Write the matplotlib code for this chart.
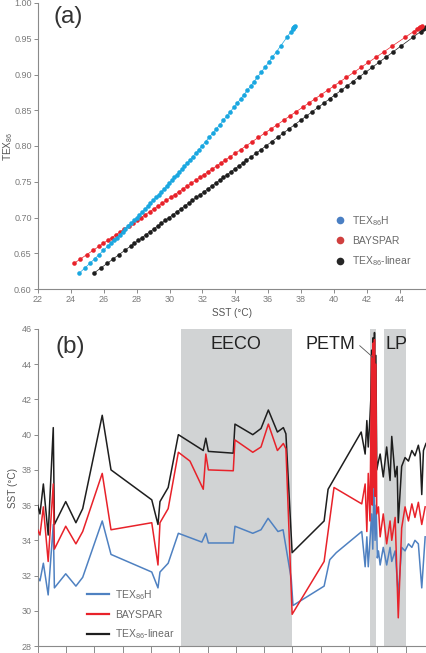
import matplotlib
matplotlib.use('Agg')
import matplotlib.pyplot as plt
from matplotlib.lines import Line2D

plt.rcParams['font.family'] = ['Liberation Sans', 'DejaVu Sans']
plt.rcParams['mathtext.fontset'] = 'custom'
plt.rcParams['mathtext.rm'] = 'Liberation Sans'
plt.rcParams['mathtext.it'] = 'Liberation Sans:italic'
plt.rcParams['mathtext.default'] = 'regular'

# ---------------- Panel (a) data: TEX86 vs SST ----------------
tex_a = [0.622, 0.630, 0.636, 0.642, 0.648, 0.654, 0.660, 0.664, 0.668, 0.672,
         0.676, 0.680, 0.684, 0.688, 0.692, 0.696, 0.700, 0.704, 0.708, 0.712,
         0.716, 0.720, 0.724, 0.728, 0.732, 0.736, 0.740, 0.744, 0.748, 0.752,
         0.756, 0.760, 0.764, 0.768, 0.772, 0.776, 0.780, 0.785, 0.790, 0.795,
         0.800, 0.806, 0.812, 0.818, 0.824, 0.830, 0.836, 0.842, 0.848, 0.854,
         0.860, 0.866, 0.872, 0.878, 0.884, 0.890, 0.896, 0.903, 0.910, 0.917,
         0.924, 0.932, 0.940, 0.952, 0.960, 0.963, 0.965, 0.966, 0.967, 0.968]

sst_texh_a = [24.50, 24.88, 25.16, 25.44, 25.71, 25.98, 26.25, 26.43, 26.61, 26.79,
              26.97, 27.15, 27.32, 27.49, 27.66, 27.83, 28.00, 28.17, 28.34, 28.51,
              28.68, 28.84, 29.00, 29.17, 29.33, 29.50, 29.66, 29.82, 29.97, 30.13,
              30.29, 30.45, 30.60, 30.76, 30.91, 31.07, 31.22, 31.41, 31.60, 31.79,
              31.97, 32.19, 32.41, 32.63, 32.85, 33.07, 33.28, 33.49, 33.70, 33.91,
              34.12, 34.33, 34.53, 34.74, 34.94, 35.14, 35.34, 35.57, 35.80, 36.03,
              36.25, 36.51, 36.76, 37.14, 37.39, 37.48, 37.54, 37.57, 37.60, 37.63]

sst_linear_a = [25.39, 25.86, 26.22, 26.57, 26.92, 27.28, 27.63, 27.86, 28.10, 28.33,
                28.57, 28.80, 29.04, 29.27, 29.51, 29.74, 29.98, 30.22, 30.45, 30.69,
                30.92, 31.16, 31.39, 31.63, 31.86, 32.10, 32.33, 32.57, 32.80, 33.04,
                33.27, 33.51, 33.74, 33.98, 34.21, 34.45, 34.68, 34.98, 35.27, 35.57,
                35.86, 36.21, 36.57, 36.92, 37.27, 37.62, 37.98, 38.33, 38.68, 39.04,
                39.39, 39.74, 40.09, 40.45, 40.80, 41.15, 41.50, 41.92, 42.33, 42.74,
                43.15, 43.62, 44.09, 44.80, 45.27, 45.44, 45.56, 45.62, 45.68, 45.74]

tex_bayspar_a = tex_a[2:]
sst_bayspar_a = [24.20, 24.58, 24.96, 25.35, 25.73, 25.98, 26.24, 26.49,
                 26.75, 27.00, 27.26, 27.51, 27.77, 28.02, 28.28, 28.53, 28.79, 29.04,
                 29.30, 29.55, 29.81, 30.06, 30.32, 30.57, 30.82, 31.08, 31.33, 31.59,
                 31.84, 32.10, 32.35, 32.61, 32.86, 33.12, 33.37, 33.69, 34.01, 34.33,
                 34.65, 35.03, 35.41, 35.79, 36.18, 36.56, 36.94, 37.32, 37.70, 38.09,
                 38.47, 38.85, 39.23, 39.62, 40.00, 40.38, 40.76, 41.21, 41.65, 42.10,
                 42.55, 43.06, 43.56, 44.33, 44.84, 45.03, 45.16, 45.22, 45.29, 45.35]

# ---------------- Panel (b) data: SST records ----------------
x_texh = [0.00, 0.08, 0.20, 0.37, 0.55, 0.59, 0.99, 1.35, 1.59, 2.28, 2.59,
          4.03, 4.25, 4.32, 4.61, 4.97, 5.80, 5.94, 6.03, 6.91, 6.97, 7.60,
          7.89, 8.14, 8.49, 8.67, 8.96, 9.02, 10.12, 10.32, 10.55, 11.45,
          11.57, 11.63, 11.68, 11.74, 11.80, 11.84, 11.88, 11.92, 11.96, 12.00,
          12.04, 12.10, 12.21, 12.33, 12.45, 12.51, 12.63, 12.74, 12.86, 12.98,
          13.10, 13.22, 13.33, 13.45, 13.57, 13.69]
sst_texh = [31.9, 31.7, 32.7, 30.9, 34.9, 31.3, 32.1, 31.4, 31.9, 35.1, 33.2,
            32.2, 31.3, 32.2, 32.7, 34.4, 33.9, 34.4, 33.85, 33.85, 34.8, 34.4,
            34.6, 35.25, 34.5, 34.6, 31.8, 30.3, 31.4, 32.9, 33.3, 34.5,
            32.5, 34.2, 32.5, 34.0, 35.5, 33.5, 37.0, 34.0, 36.0, 33.0,
            33.4, 32.6, 33.6, 32.6, 33.6, 32.8, 33.4, 30.9, 33.6, 33.4,
            33.8, 33.6, 34.0, 33.8, 31.3, 34.2]

x_bayspar = [0.00, 0.08, 0.20, 0.37, 0.55, 0.59, 0.99, 1.35, 1.59, 2.28, 2.59,
             4.03, 4.25, 4.32, 4.61, 4.97, 5.38, 5.85, 5.94, 6.03, 6.91, 6.97,
             7.60, 7.89, 8.15, 8.47, 8.68, 8.77, 8.99, 10.12, 10.47, 11.45,
             11.57, 11.63, 11.68, 11.74, 11.77, 11.80, 11.82, 11.85, 11.87, 11.90,
             11.92, 11.95, 11.98, 12.04, 12.10, 12.21, 12.33, 12.45, 12.51, 12.63,
             12.74, 12.86, 12.98, 13.10, 13.22, 13.33, 13.45, 13.57, 13.69]
sst_bayspar = [34.6, 34.3, 35.9, 32.8, 37.2, 33.5, 34.8, 33.8, 34.5, 37.8, 34.6,
               35.0, 32.6, 35.0, 35.8, 39.0, 38.5, 36.9, 38.9, 38.0, 37.95, 39.7,
               39.0, 39.3, 40.6, 39.1, 39.5, 39.2, 29.8, 32.8, 37.0, 36.07,
               37.2, 34.5, 37.8, 35.1, 40.0, 44.5, 36.0, 45.2, 37.0, 45.4,
               36.5, 44.0, 35.5, 35.9, 34.2, 35.5, 33.8, 35.1, 34.0, 35.3,
               29.6, 34.7, 35.9, 35.1, 36.07, 35.3, 36.16, 34.9, 35.9]

x_linear = [0.00, 0.08, 0.20, 0.37, 0.55, 0.59, 0.99, 1.35, 1.59, 2.28, 2.59,
            4.03, 4.25, 4.32, 4.61, 4.97, 5.85, 5.94, 6.03, 6.91, 6.97, 7.60,
            7.89, 8.15, 8.47, 8.68, 8.77, 8.99, 10.12, 10.26, 11.43,
            11.57, 11.63, 11.68, 11.74, 11.77, 11.80, 11.82, 11.85, 11.87, 11.90,
            11.92, 11.95, 11.98, 12.04, 12.10, 12.21, 12.33, 12.45, 12.51, 12.63,
            12.70, 12.74, 12.86, 12.98, 13.10, 13.22, 13.33, 13.45, 13.51, 13.57,
            13.63, 13.72]
sst_linear = [36.0, 35.5, 37.2, 34.3, 40.4, 34.9, 36.2, 35.0, 35.8, 41.1, 38.0,
              36.3, 34.9, 36.2, 37.0, 40.0, 39.1, 39.8, 39.05, 38.95, 40.6, 40.0,
              40.35, 41.4, 40.15, 40.4, 40.05, 33.3, 35.1, 36.9, 40.15,
              38.9, 40.8, 39.3, 41.0, 42.0, 44.8, 38.5, 45.5, 39.0, 45.8,
              38.5, 44.5, 38.0, 38.5, 38.9, 37.6, 39.3, 37.4, 39.9, 37.6,
              38.2, 35.0, 38.2, 38.7, 38.5, 39.1, 38.8, 39.4, 38.9, 36.6,
              39.1, 39.5]

# shaded intervals (x units)
intervals = [(5.05, 9.00), (11.73, 11.94), (12.24, 13.00)]
interval_labels = ['EECO', 'PETM', 'LP']

labels = [r'TEX$_{86}$H', 'BAYSPAR', r'TEX$_{86}$-linear']
c_cyan = '#1aa7e0'
c_blue = '#4f81c1'
c_red = '#e8222a'
c_black = '#1e1e1e'
c_gray_txt = '#7a7a7a'
c_spine = '#8a8a8a'
c_shade = '#d1d3d4'

W, H = 426, 653
fig = plt.figure(figsize=(W / 100, H / 100), dpi=100)

def style(ax):
    for s in ['top', 'right']:
        ax.spines[s].set_visible(False)
    for s in ['left', 'bottom']:
        ax.spines[s].set_color(c_spine)
        ax.spines[s].set_linewidth(0.8)
    ax.tick_params(colors=c_spine, labelcolor=c_gray_txt, labelsize=6.5,
                   length=3, width=0.7, pad=1.5, direction='out')

# ---------------- Panel (a) ----------------
axA = fig.add_axes([38 / W, (H - 289) / H, 388 / W, 286 / H])
style(axA)
axA.plot(sst_linear_a, tex_a, '-', color=c_black, lw=0.5, marker='o', ms=3.3,
         mec='none', zorder=2)
axA.plot(sst_bayspar_a, tex_bayspar_a, '-', color=c_red, lw=0.5, marker='o', ms=3.3,
         mec='none', zorder=3)
axA.plot(sst_texh_a, tex_a, '-', color=c_cyan, lw=0.5, marker='o', ms=3.3,
         mec='none', zorder=4)
axA.set_xlim(22, 45.6)
axA.set_ylim(0.60, 1.00)
axA.set_xticks(range(22, 46, 2))
axA.set_yticks([0.60, 0.65, 0.70, 0.75, 0.80, 0.85, 0.90, 0.95, 1.00])
axA.set_yticklabels(['%.2f' % v for v in [0.60, 0.65, 0.70, 0.75, 0.80, 0.85, 0.90, 0.95, 1.00]])
axA.set_xlabel('SST (°C)', fontsize=7.2, color='#555555', labelpad=3)
axA.set_ylabel(r'TEX$_{86}$', fontsize=7.2, color='#555555')
axA.yaxis.set_label_coords(-0.060, 0.5)
axA.text(0.077, 0.951, '(a)', transform=axA.transAxes, fontsize=17.5,
         color='#333333', ha='center', va='center')
hA = [Line2D([], [], ls='none', marker='o', ms=5.5, mec='none', color=c)
      for c in ['#4a7fc3', '#d0403f', '#262626']]
legA = axA.legend(hA, labels, loc='upper left', bbox_to_anchor=(335 / W, 1 - 214 / H),
                  bbox_transform=fig.transFigure, frameon=False, fontsize=7.5,
                  handlelength=1.0, handletextpad=0.6, labelspacing=0.8,
                  borderaxespad=0, borderpad=0)
for t in legA.get_texts():
    t.set_color('#6a6a6a')

# ---------------- Panel (b) ----------------
axB = fig.add_axes([37.7 / W, 7 / H, 388.3 / W, 317 / H])
style(axB)
for (x0, x1) in intervals:
    axB.axvspan(x0, x1, color=c_shade, lw=0, zorder=0)
axB.plot(x_texh, sst_texh, color=c_blue, lw=1.1, zorder=2)
axB.plot(x_linear, sst_linear, color=c_black, lw=1.1, zorder=3)
axB.plot(x_bayspar, sst_bayspar, color=c_red, lw=1.1, zorder=4)
axB.set_xlim(0, 13.72)
axB.set_ylim(28, 46)
axB.set_yticks(range(28, 47, 2))
axB.set_xticks(range(0, 14))
axB.set_xticklabels([])
axB.tick_params(axis='x', length=5)
axB.set_ylabel('SST (°C)', fontsize=7.2, color='#555555')
axB.yaxis.set_label_coords(-0.052, 0.5)
axB.text(0.083, 0.943, '(b)', transform=axB.transAxes, fontsize=17.5,
         color='#333333', ha='center', va='center')
axB.text(0.511, 0.950, interval_labels[0], transform=axB.transAxes, fontsize=13,
         color='#222222', ha='center', va='center')
axB.text(0.753, 0.950, interval_labels[1], transform=axB.transAxes, fontsize=13,
         color='#222222', ha='center', va='center')
axB.text(0.923, 0.950, interval_labels[2], transform=axB.transAxes, fontsize=13,
         color='#222222', ha='center', va='center')
axB.plot([11.38, 11.84], [45.05, 44.4], color='#555555', lw=0.6, zorder=5)
hB = [Line2D([], [], color=c, lw=1.6) for c in [c_blue, c_red, c_black]]
legB = axB.legend(hB, labels, loc='upper left', bbox_to_anchor=(87 / W, 1 - 588 / H),
                  bbox_transform=fig.transFigure, frameon=False, fontsize=7.5,
                  handlelength=2.1, handletextpad=0.6, labelspacing=0.75,
                  borderaxespad=0, borderpad=0)
for t in legB.get_texts():
    t.set_color('#6a6a6a')

fig.savefig('out.png', dpi=100)
